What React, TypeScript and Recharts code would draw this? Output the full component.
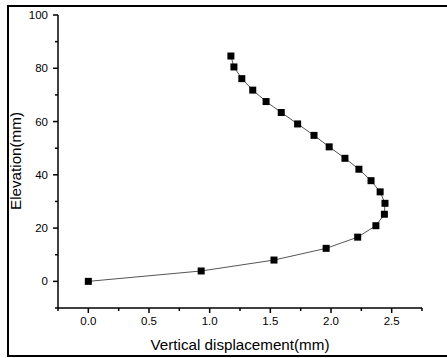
import React from "react";
import { LineChart, Line, XAxis, YAxis } from "recharts";

// vertical displacement (mm), bottom to top
const displacement = [
  0.0, 0.93, 1.53, 1.96, 2.22, 2.37, 2.44, 2.445, 2.405, 2.33, 2.23,
  2.115, 1.985, 1.86, 1.725, 1.59, 1.465, 1.355, 1.265, 1.2, 1.175,
];
const elevation = [
  0, 3.9, 8.0, 12.4, 16.6, 20.9, 25.2, 29.3, 33.6, 37.8, 42.1,
  46.2, 50.5, 54.8, 59.1, 63.4, 67.5, 71.8, 76.1, 80.5, 84.6,
];

const xTicks = [-0.25, 0, 0.25, 0.5, 0.75, 1, 1.25, 1.5, 1.75, 2, 2.25, 2.5, 2.75];
const yTicks = [-10, 0, 10, 20, 30, 40, 50, 60, 70, 80, 90, 100];

const data = displacement.map((x, i) => ({ x, y: elevation[i] }));

const FONT = "'Liberation Sans', Arial, sans-serif";

function XTick(props: any) {
  const { x, y, payload } = props;
  const v = payload.value as number;
  const major = Math.abs(v * 2 - Math.round(v * 2)) < 1e-6;
  return (
    <g>
      <line x1={x} x2={x} y1={y} y2={y + (major ? 5 : 3)} stroke="#000" strokeWidth={1.5} />
      {major && (
        <text x={x} y={y + 17} textAnchor="middle" fontSize={11.5} fontFamily={FONT} fill="#000">
          {v.toFixed(1)}
        </text>
      )}
    </g>
  );
}

function YTick(props: any) {
  const { x, y, payload } = props;
  const v = payload.value as number;
  const major = v % 20 === 0;
  return (
    <g>
      <line x1={x} x2={x - (major ? 5 : 3)} y1={y} y2={y} stroke="#000" strokeWidth={1.5} />
      {major && (
        <text x={x - 10} y={y + 4} textAnchor="end" fontSize={11.5} fontFamily={FONT} fill="#000">
          {v}
        </text>
      )}
    </g>
  );
}

function SquareDot(props: any) {
  const { cx, cy, index } = props;
  return <rect key={index} x={cx - 3.5} y={cy - 3.5} width={7} height={7} fill="#000" />;
}

export default function App() {
  return (
    <div
      style={{
        position: "fixed",
        left: 0,
        top: 0,
        width: 447,
        height: 358,
        overflow: "hidden",
        background: "#fff",
      }}
    >
      <div
        style={{
          position: "absolute",
          left: 7,
          top: 5,
          width: 460,
          height: 348,
          border: "2px solid #000",
        }}
      />
      <div style={{ position: "absolute", left: 0, top: 0 }}>
        <LineChart
          width={447}
          height={358}
          data={data}
          margin={{ top: 15, right: 25, bottom: 0, left: 0 }}
        >
          <XAxis
            type="number"
            dataKey="x"
            domain={[-0.25, 2.75]}
            ticks={xTicks}
            interval={0}
            allowDataOverflow
            height={50}
            tickSize={0}
            tickMargin={0}
            tickLine={false}
            axisLine={{ stroke: "#000", strokeWidth: 1.5 }}
            tick={<XTick />}
            label={{
              content: () => (
                <text x={240} y={350} textAnchor="middle" fontSize={15.2} fontFamily={FONT} fill="#000">
                  Vertical displacement(mm)
                </text>
              ),
            }}
          />
          <YAxis
            type="number"
            dataKey="y"
            domain={[-10, 100]}
            ticks={yTicks}
            interval={0}
            allowDataOverflow
            width={58}
            tickSize={0}
            tickMargin={0}
            tickLine={false}
            axisLine={{ stroke: "#000", strokeWidth: 1.5 }}
            tick={<YTick />}
            label={{
              content: () => (
                <text
                  x={21}
                  y={161}
                  transform="rotate(-90 21 161)"
                  textAnchor="middle"
                  fontSize={15.2}
                  fontFamily={FONT}
                  fill="#000"
                >
                  Elevation(mm)
                </text>
              ),
            }}
          />
          <Line
            type="linear"
            dataKey="y"
            stroke="#555"
            strokeWidth={1}
            dot={SquareDot}
            activeDot={false}
            isAnimationActive={false}
          />
        </LineChart>
      </div>
    </div>
  );
}
